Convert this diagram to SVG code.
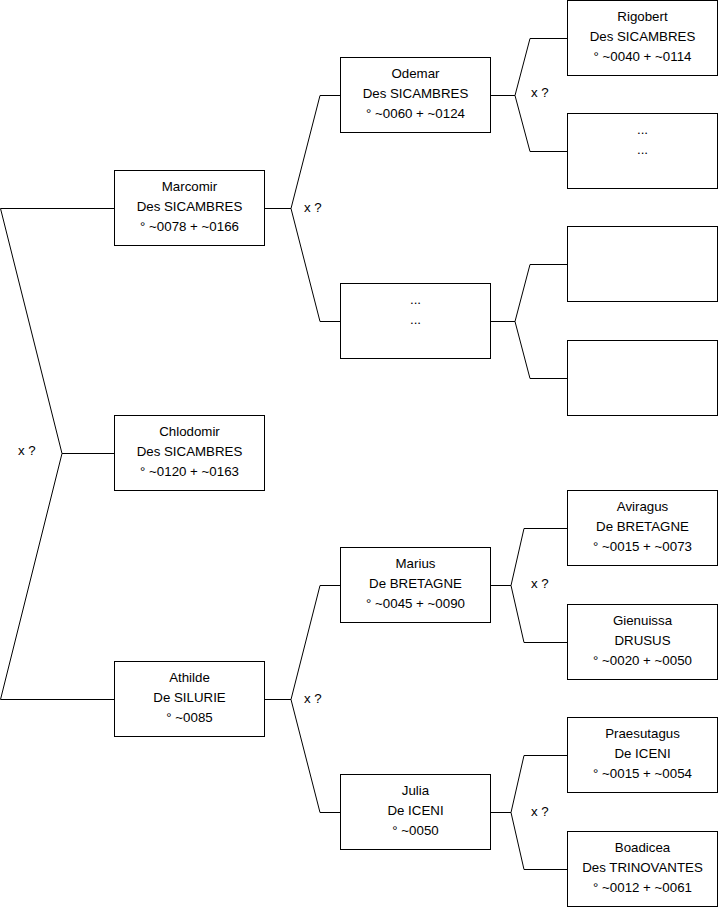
<svg xmlns="http://www.w3.org/2000/svg" width="719" height="908" viewBox="0 0 719 908">
<style>
.b{fill:#fff;stroke:#000;stroke-width:1}
.c{fill:none;stroke:#000;stroke-width:1}
text{font-family:"Liberation Sans",Arial,sans-serif;font-size:13.3px;fill:#000}
.t{text-anchor:middle}
</style>
<rect width="719" height="908" fill="#fff"/>
<g id="connectors">
<path class="c" d="M114.5,208.5 H0.5 L62,453.5 L0.5,699.5 H114.5 M62,453.5 H114.5"/>
<path class="c" d="M264.5,208.5 H291 M340.5,95.5 H320 L291,208.5 L320,321.5 H340.5"/>
<path class="c" d="M264.5,699.5 H291 M340.5,585.5 H320 L291,699.5 L320,812.5 H340.5"/>
<path class="c" d="M490.5,95.5 H515 M567.5,38.5 H530 L515,95.5 L530,151.5 H567.5"/>
<path class="c" d="M490.5,321.5 H515 M567.5,264.5 H530 L515,321.5 L530,378.5 H567.5"/>
<path class="c" d="M490.5,585.5 H511 M567.5,528.5 H524 L511,585.5 L524,642.5 H567.5"/>
<path class="c" d="M490.5,812.5 H511 M567.5,755.5 H524 L511,812.5 L524,869.5 H567.5"/>
<text x="18" y="455">x ?</text>
<text x="304" y="212">x ?</text>
<text x="304" y="703">x ?</text>
<text x="531" y="97">x ?</text>
<text x="531" y="588">x ?</text>
<text x="531" y="816">x ?</text>
</g>
<g id="marcomir"><rect class="b" x="114.5" y="170.5" width="150" height="75"/><text class="t" x="189.5" y="191">Marcomir</text><text class="t" x="189.5" y="211">Des SICAMBRES</text><text class="t" x="189.5" y="231">° ~0078 + ~0166</text></g>
<g id="chlodomir"><rect class="b" x="114.5" y="415.5" width="150" height="75"/><text class="t" x="189.5" y="436">Chlodomir</text><text class="t" x="189.5" y="456">Des SICAMBRES</text><text class="t" x="189.5" y="476">° ~0120 + ~0163</text></g>
<g id="athilde"><rect class="b" x="114.5" y="661.5" width="150" height="75"/><text class="t" x="189.5" y="682">Athilde</text><text class="t" x="189.5" y="702">De SILURIE</text><text class="t" x="189.5" y="722">° ~0085</text></g>
<g id="odemar"><rect class="b" x="340.5" y="57.5" width="150" height="75"/><text class="t" x="415.5" y="78">Odemar</text><text class="t" x="415.5" y="98">Des SICAMBRES</text><text class="t" x="415.5" y="118">° ~0060 + ~0124</text></g>
<g id="unknown2"><rect class="b" x="340.5" y="283.5" width="150" height="75"/><text class="t" x="415.5" y="304">...</text><text class="t" x="415.5" y="324">...</text></g>
<g id="marius"><rect class="b" x="340.5" y="547.5" width="150" height="75"/><text class="t" x="415.5" y="568">Marius</text><text class="t" x="415.5" y="588">De BRETAGNE</text><text class="t" x="415.5" y="608">° ~0045 + ~0090</text></g>
<g id="julia"><rect class="b" x="340.5" y="774.5" width="150" height="75"/><text class="t" x="415.5" y="795">Julia</text><text class="t" x="415.5" y="815">De ICENI</text><text class="t" x="415.5" y="835">° ~0050</text></g>
<g id="rigobert"><rect class="b" x="567.5" y="0.5" width="150" height="75"/><text class="t" x="642.5" y="21">Rigobert</text><text class="t" x="642.5" y="41">Des SICAMBRES</text><text class="t" x="642.5" y="61">° ~0040 + ~0114</text></g>
<g id="unknown3"><rect class="b" x="567.5" y="113.5" width="150" height="75"/><text class="t" x="642.5" y="134">...</text><text class="t" x="642.5" y="154">...</text></g>
<g id="empty1"><rect class="b" x="567.5" y="226.5" width="150" height="75"/></g>
<g id="empty2"><rect class="b" x="567.5" y="340.5" width="150" height="75"/></g>
<g id="aviragus"><rect class="b" x="567.5" y="490.5" width="150" height="75"/><text class="t" x="642.5" y="511">Aviragus</text><text class="t" x="642.5" y="531">De BRETAGNE</text><text class="t" x="642.5" y="551">° ~0015 + ~0073</text></g>
<g id="gienuissa"><rect class="b" x="567.5" y="604.5" width="150" height="75"/><text class="t" x="642.5" y="625">Gienuissa</text><text class="t" x="642.5" y="645">DRUSUS</text><text class="t" x="642.5" y="665">° ~0020 + ~0050</text></g>
<g id="praesutagus"><rect class="b" x="567.5" y="717.5" width="150" height="75"/><text class="t" x="642.5" y="738">Praesutagus</text><text class="t" x="642.5" y="758">De ICENI</text><text class="t" x="642.5" y="778">° ~0015 + ~0054</text></g>
<g id="boadicea"><rect class="b" x="567.5" y="831.5" width="150" height="75"/><text class="t" x="642.5" y="852">Boadicea</text><text class="t" x="642.5" y="872">Des TRINOVANTES</text><text class="t" x="642.5" y="892">° ~0012 + ~0061</text></g>
</svg>
